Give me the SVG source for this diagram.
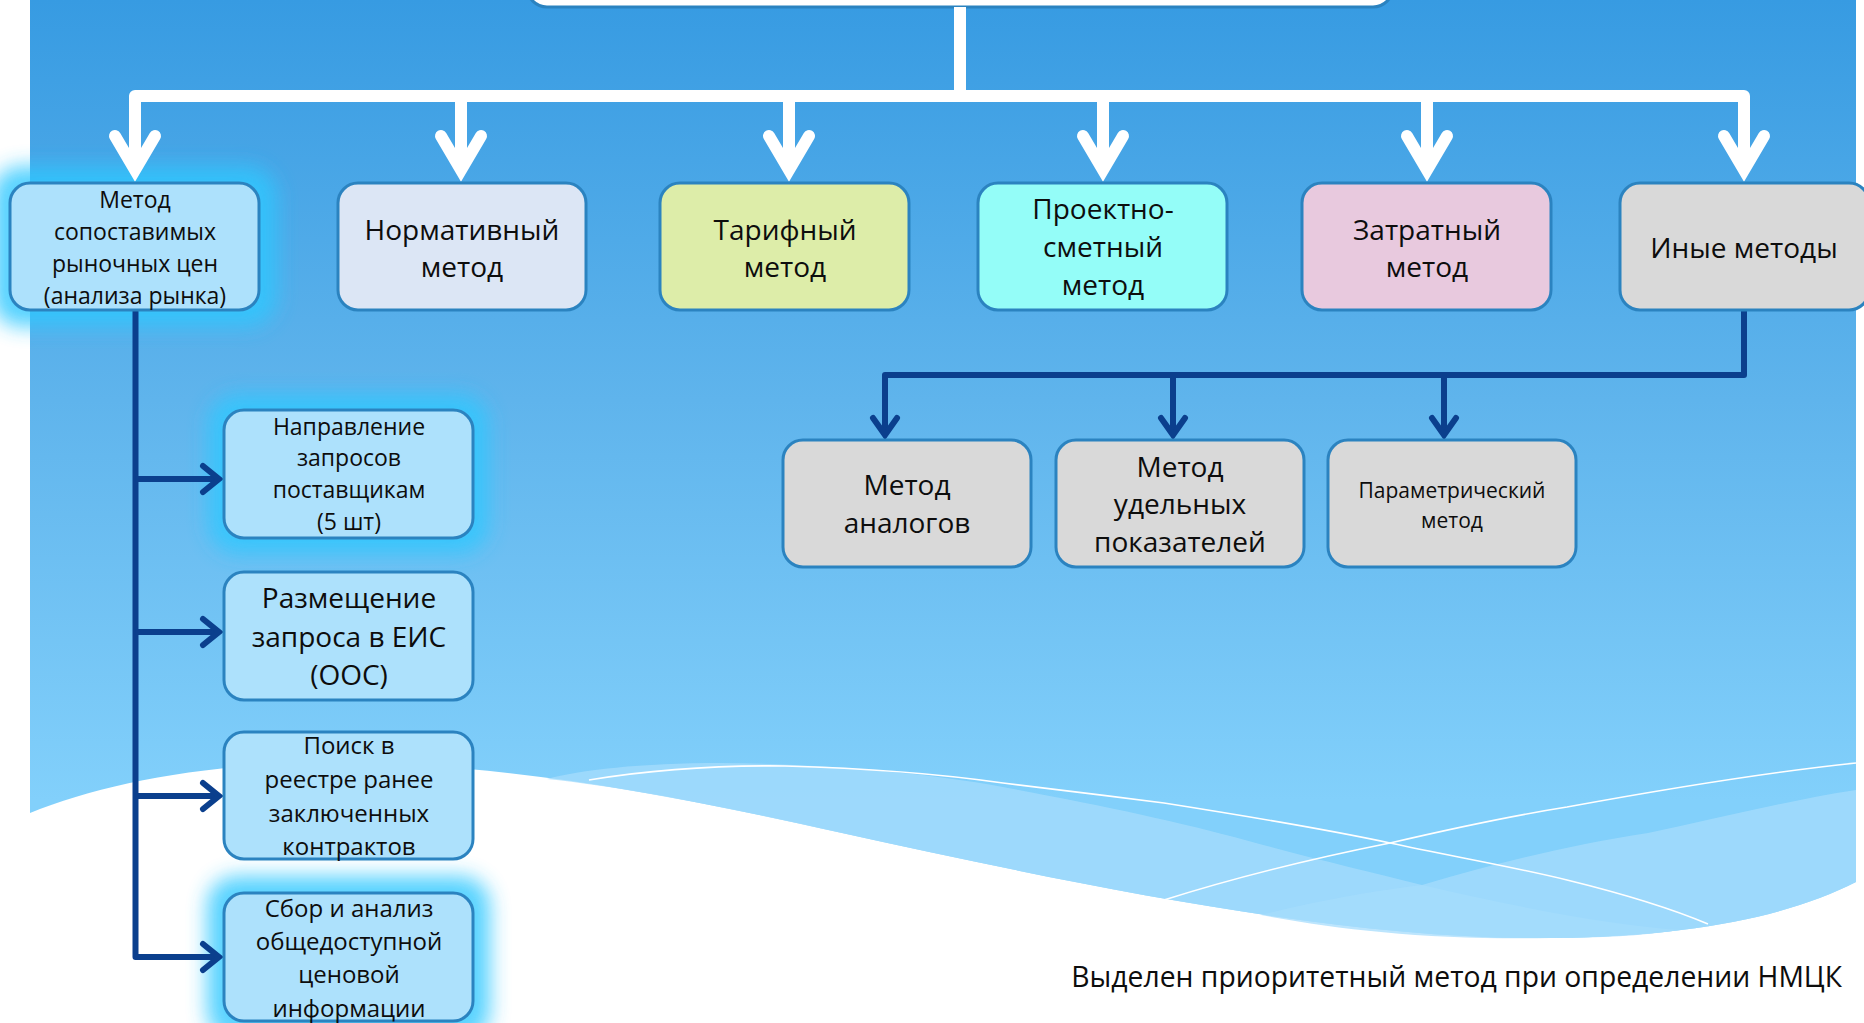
<svg xmlns="http://www.w3.org/2000/svg" width="1864" height="1023" viewBox="0 0 1864 1023">
  <defs>
    <linearGradient id="bg" gradientUnits="userSpaceOnUse" x1="0" y1="0" x2="0" y2="800">
      <stop offset="0" stop-color="#379be2"/>
      <stop offset="0.5" stop-color="#5fb4ec"/>
      <stop offset="1" stop-color="#82d0fb"/>
    </linearGradient>
    <filter id="glow" x="-30%" y="-40%" width="160%" height="180%">
      <feGaussianBlur stdDeviation="10"/>
    </filter>
    <style>
      .box { stroke: #2b83c0; stroke-width: 3; }
      .t { font-family: "Open Sans", "Noto Sans", "DejaVu Sans", sans-serif; fill: #0d0d0d; text-anchor: middle; }
      .f28 { font-size: 28px; }
      .f24 { font-size: 24px; }
      .f23 { font-size: 23px; }
      .f21 { font-size: 21px; }
      .white { fill: none; stroke: #ffffff; stroke-width: 12; }
      .dark { fill: none; stroke: #0b3f8d; stroke-width: 6; }
      .glowr { fill: #2ec8ff; opacity: 0.8; filter: url(#glow); }
      .wline { fill: none; stroke: #ffffff; stroke-width: 1.6; }
    </style>
  </defs>

  <!-- background -->
  <rect x="0" y="0" width="1864" height="1023" fill="#ffffff"/>
  <path d="M30 0 H1856 V882 C1790 915 1700 936 1551 938 C1350 940 1100 890 842 833 C650 790 500 763 330 763 C200 763 100 785 30 813 Z" fill="url(#bg)"/>
  <path d="M547 779 C580 770 640 763 721 763 C820 764 920 772 1003 787 C1100 805 1180 822 1245 840 C1310 858 1370 872 1422 885 C1520 908 1610 925 1680 930 C1640 936 1600 938 1551 938 C1350 940 1100 890 842 833 C720 806 630 788 547 779 Z" fill="#a6dcfc" opacity="0.75"/>
  <path d="M1261 915 C1320 900 1380 890 1422 885 C1500 862 1570 845 1648 833 C1720 818 1790 800 1856 790 V882 C1790 915 1700 936 1551 938 C1430 940 1340 930 1261 915 Z" fill="#a6dcfc" opacity="0.75"/>
  <path class="wline" d="M589 780 C650 770 710 765 785 766 C860 768 940 774 1003 783 C1060 790 1110 796 1164 803 C1240 815 1320 828 1390 843 C1450 856 1510 866 1567 880 C1620 893 1670 908 1708 924"/>
  <path class="wline" d="M1164 900 C1240 876 1320 857 1390 843 C1450 829 1510 816 1567 807 C1660 790 1760 773 1856 763"/>

  <!-- glows -->
  <rect class="glowr" x="-8" y="166" width="285" height="161" rx="30"/>
  <rect class="glowr" x="208" y="394" width="281" height="160" rx="30"/>
  <rect class="glowr" x="207" y="876" width="283" height="165" rx="30"/>

  <!-- connectors -->
  <g id="connectors">
    <rect x="527" y="-40" width="866" height="47" rx="20" fill="#ffffff" class="box"/>
    <path class="white" d="M960 7 V96"/>
    <path class="white" stroke-linejoin="round" d="M135 170 V96 H1744 V170"/>
    <path class="white" d="M461 96 V170 M789 96 V170 M1103 96 V170 M1427 96 V170"/>
    <g class="white" stroke-linecap="round" stroke-linejoin="miter" stroke-miterlimit="10">
      <path d="M115 136 L135 170 L155 136"/>
      <path d="M441 136 L461 170 L481 136"/>
      <path d="M769 136 L789 170 L809 136"/>
      <path d="M1083 136 L1103 170 L1123 136"/>
      <path d="M1407 136 L1427 170 L1447 136"/>
      <path d="M1724 136 L1744 170 L1764 136"/>
    </g>
    <path class="dark" stroke-linejoin="round" d="M135.5 311 V957 H218"/>
    <path class="dark" d="M135.5 479 H218 M135.5 632 H218 M135.5 796 H218"/>
    <g class="dark" stroke-linecap="round" stroke-linejoin="miter" stroke-miterlimit="10">
      <path d="M203 466 L219 479 L203 492"/>
      <path d="M203 619 L219 632 L203 645"/>
      <path d="M203 783 L219 796 L203 809"/>
      <path d="M203 944 L219 957 L203 970"/>
    </g>
    <path class="dark" stroke-linejoin="round" d="M1744 311 V375 H885 V433"/>
    <path class="dark" d="M1173 375 V433 M1444 375 V433"/>
    <g class="dark" stroke-linecap="round" stroke-linejoin="miter" stroke-miterlimit="10">
      <path d="M873 418 L885 435 L897 418"/>
      <path d="M1161 418 L1173 435 L1185 418"/>
      <path d="M1432 418 L1444 435 L1456 418"/>
    </g>
  </g>

  <!-- top row -->
  <g id="node-market">
    <rect class="box" x="10" y="183" width="249" height="127" rx="20" fill="#ade1fc"/>
    <text class="t f23" x="135" y="208">Метод</text>
    <text class="t f23" x="135" y="240">сопоставимых</text>
    <text class="t f23" x="135" y="272">рыночных цен</text>
    <text class="t f23" x="135" y="304">(анализа рынка)</text>
  </g>
  <g id="node-normative">
    <rect class="box" x="338" y="183" width="248" height="127" rx="20" fill="#dce6f5"/>
    <text class="t f28" x="462" y="240">Нормативный</text>
    <text class="t f28" x="462" y="277">метод</text>
  </g>
  <g id="node-tariff">
    <rect class="box" x="660" y="183" width="249" height="127" rx="20" fill="#ddeda9"/>
    <text class="t f28" x="785" y="240">Тарифный</text>
    <text class="t f28" x="785" y="277">метод</text>
  </g>
  <g id="node-design">
    <rect class="box" x="978" y="183" width="249" height="127" rx="20" fill="#94fdf8"/>
    <text class="t f28" x="1103" y="219">Проектно-</text>
    <text class="t f28" x="1103" y="257">сметный</text>
    <text class="t f28" x="1103" y="295">метод</text>
  </g>
  <g id="node-cost">
    <rect class="box" x="1302" y="183" width="249" height="127" rx="20" fill="#e8c9de"/>
    <text class="t f28" x="1427" y="240">Затратный</text>
    <text class="t f28" x="1427" y="277">метод</text>
  </g>
  <g id="node-other">
    <rect class="box" x="1620" y="183" width="249" height="127" rx="20" fill="#d9d9d9"/>
    <text class="t f28" x="1744" y="258">Иные методы</text>
  </g>

  <!-- left column -->
  <g id="node-requests">
    <rect class="box" x="224" y="410" width="249" height="128" rx="20" fill="#ade1fc"/>
    <text class="t f23" x="349" y="435">Направление</text>
    <text class="t f23" x="349" y="466">запросов</text>
    <text class="t f23" x="349" y="498">поставщикам</text>
    <text class="t f23" x="349" y="530">(5 шт)</text>
  </g>
  <g id="node-eis">
    <rect class="box" x="224" y="572" width="249" height="128" rx="20" fill="#ade1fc"/>
    <text class="t f28" x="349" y="608">Размещение</text>
    <text class="t f28" x="349" y="647">запроса в ЕИС</text>
    <text class="t f28" x="349" y="685">(ООС)</text>
  </g>
  <g id="node-registry">
    <rect class="box" x="224" y="732" width="249" height="127" rx="20" fill="#ade1fc"/>
    <text class="t f24" x="349" y="754">Поиск в</text>
    <text class="t f24" x="349" y="788">реестре ранее</text>
    <text class="t f24" x="349" y="822">заключенных</text>
    <text class="t f24" x="349" y="855">контрактов</text>
  </g>
  <g id="node-public">
    <rect class="box" x="224" y="893" width="249" height="128" rx="20" fill="#ade1fc"/>
    <text class="t f24" x="349" y="917">Сбор и анализ</text>
    <text class="t f24" x="349" y="950">общедоступной</text>
    <text class="t f24" x="349" y="983">ценовой</text>
    <text class="t f24" x="349" y="1017">информации</text>
  </g>

  <!-- other methods -->
  <g id="node-analog">
    <rect class="box" x="783" y="440" width="248" height="127" rx="20" fill="#d9d9d9"/>
    <text class="t f28" x="907" y="495">Метод</text>
    <text class="t f28" x="907" y="533">аналогов</text>
  </g>
  <g id="node-specific">
    <rect class="box" x="1056" y="440" width="248" height="127" rx="20" fill="#d9d9d9"/>
    <text class="t f28" x="1180" y="477">Метод</text>
    <text class="t f28" x="1180" y="514">удельных</text>
    <text class="t f28" x="1180" y="552">показателей</text>
  </g>
  <g id="node-parametric">
    <rect class="box" x="1328" y="440" width="248" height="127" rx="20" fill="#d9d9d9"/>
    <text class="t f21" x="1452" y="498">Параметрический</text>
    <text class="t f21" x="1452" y="528">метод</text>
  </g>

  <text class="t" x="1842" y="987" style="text-anchor:end;font-size:28.3px">Выделен приоритетный метод при определении НМЦК</text>
</svg>
